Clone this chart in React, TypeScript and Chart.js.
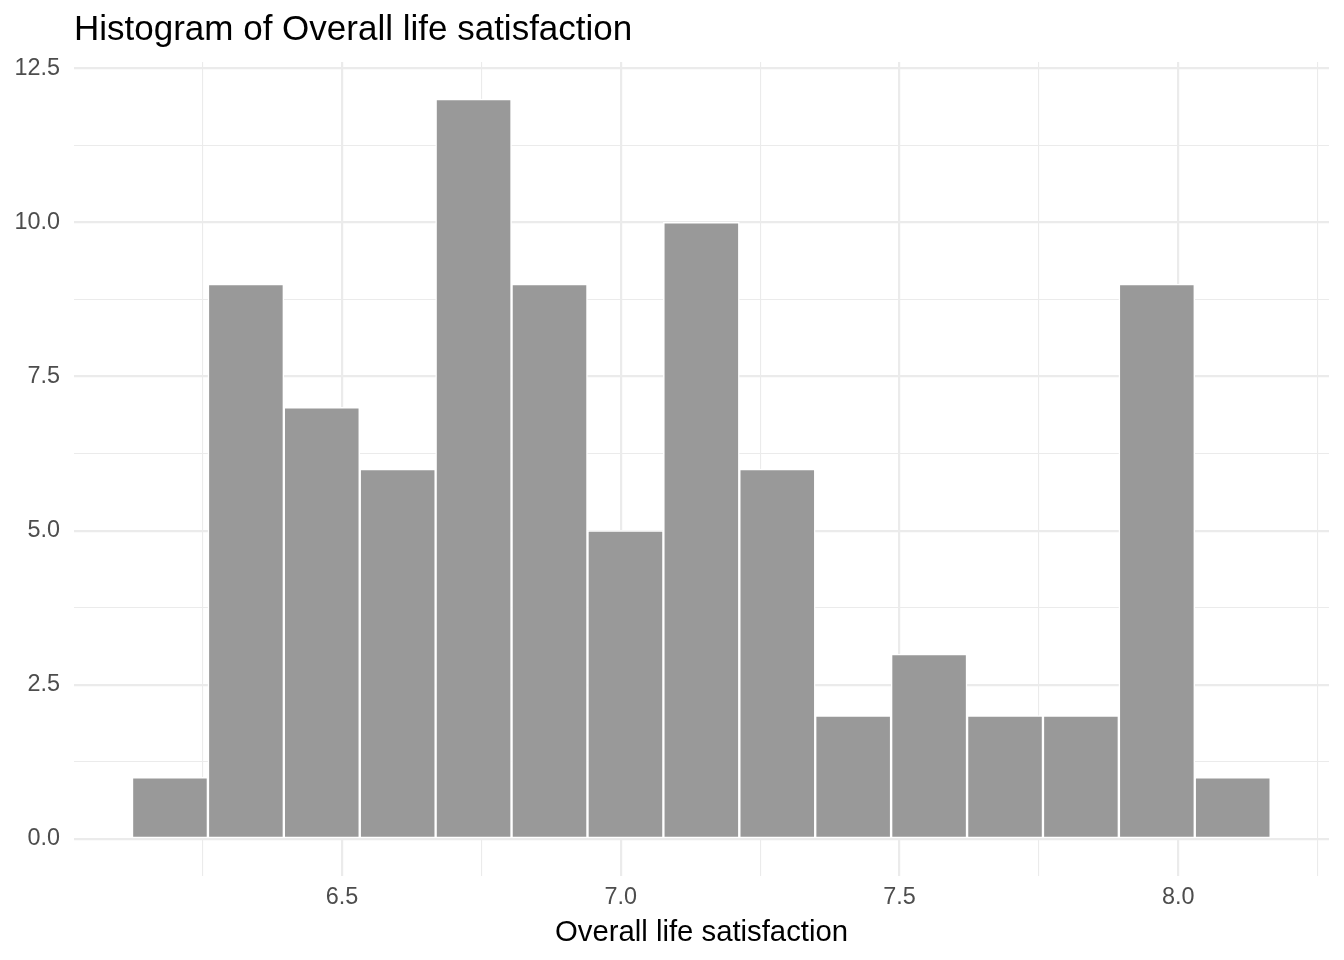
import React, { useEffect, useRef } from "react";
import { Chart, registerables } from "chart.js";

Chart.register(...registerables);

// Bin centres (Overall life satisfaction) and counts
const binCenters = [
  6.1914, 6.3276, 6.4637, 6.5999, 6.736, 6.8722, 7.0084, 7.1445, 7.2807, 7.4168,
  7.553, 7.6892, 7.8253, 7.9615, 8.0976,
];
const counts = [1, 9, 7, 6, 12, 9, 5, 10, 6, 2, 3, 2, 2, 9, 1];

const xTicks = [6.25, 6.5, 6.75, 7.0, 7.25, 7.5, 7.75, 8.0, 8.25];
const xMajor = [6.5, 7.0, 7.5, 8.0];
const yTicks = [0, 1.25, 2.5, 3.75, 5, 6.25, 7.5, 8.75, 10, 11.25, 12.5];
const yMajor = [0, 2.5, 5, 7.5, 10, 12.5];

const titleText = "Histogram of Overall life satisfaction";
const xTitle = "Overall life satisfaction";

const FONT = "'Liberation Sans', Arial, Helvetica, sans-serif";
const GRID = "#EBEBEB";

const isIn = (arr: number[], v: number) => arr.some((a) => Math.abs(a - v) < 1e-6);

export default function App() {
  const ref = useRef<HTMLCanvasElement | null>(null);

  useEffect(() => {
    if (!ref.current) return;
    const chart = new Chart(ref.current, {
      type: "bar",
      data: {
        datasets: [
          {
            data: binCenters.map((x, i) => ({ x, y: counts[i] })),
            backgroundColor: "#999999",
            borderColor: "#FFFFFF",
            borderWidth: 1.5,
            borderSkipped: false,
            categoryPercentage: 1,
            barPercentage: 1,
          },
        ],
      },
      options: {
        animation: false,
        responsive: false,
        devicePixelRatio: 1,
        layout: { padding: { left: 0, right: 15, top: 0, bottom: 0 } },
        plugins: {
          legend: { display: false },
          tooltip: { enabled: false },
          title: {
            display: true,
            text: titleText,
            align: "start",
            fullSize: false,
            color: "#000000",
            font: { family: FONT, size: 35, weight: "normal" },
            padding: { top: 9, bottom: 11 },
          },
        },
        scales: {
          x: {
            type: "linear",
            min: 6.0193,
            max: 8.2703,
            offset: false,
            afterBuildTicks: (scale: any) => {
              scale.ticks = xTicks.map((v) => ({ value: v }));
            },
            afterFit: (scale: any) => {
              scale.height = 84;
            },
            ticks: {
              autoSkip: false,
              maxRotation: 0,
              padding: 8,
              color: "#4D4D4D",
              font: { family: FONT, size: 23.4 },
              callback: (v: any) => (isIn(xMajor, Number(v)) ? Number(v).toFixed(1) : ""),
            },
            grid: {
              offset: false,
              color: GRID,
              drawTicks: false,
              lineWidth: (ctx: any) => (ctx.tick && isIn(xMajor, ctx.tick.value) ? 2.2 : 1.1),
            },
            border: { display: false },
            title: {
              display: true,
              text: xTitle,
              color: "#000000",
              font: { family: FONT, size: 29.3 },
              padding: { top: 0, bottom: 10 },
            },
          },
          y: {
            type: "linear",
            min: -0.6,
            max: 12.6,
            afterBuildTicks: (scale: any) => {
              scale.ticks = yTicks.map((v) => ({ value: v }));
            },
            afterFit: (scale: any) => {
              scale.width = 74;
            },
            ticks: {
              autoSkip: false,
              padding: 14,
              color: "#4D4D4D",
              font: { family: FONT, size: 23.4 },
              callback: (v: any) => (isIn(yMajor, Number(v)) ? Number(v).toFixed(1) : ""),
            },
            grid: {
              offset: false,
              color: GRID,
              drawTicks: false,
              lineWidth: (ctx: any) => (ctx.tick && isIn(yMajor, ctx.tick.value) ? 2.2 : 1.1),
            },
            border: { display: false },
          },
        },
      } as any,
    });
    return () => chart.destroy();
  }, []);

  return (
    <div style={{ position: "absolute", left: 0, top: 0, width: 1344, height: 960, background: "#fff" }}>
      <canvas ref={ref} width={1344} height={960} style={{ width: 1344, height: 960, display: "block" }} />
    </div>
  );
}
